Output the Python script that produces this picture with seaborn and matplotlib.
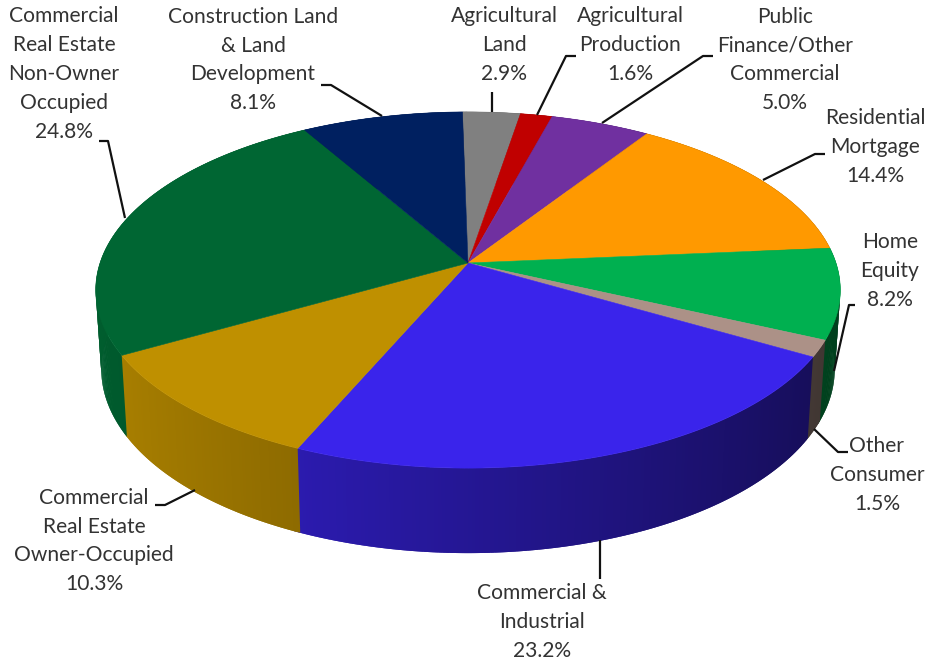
import numpy as np
import matplotlib
matplotlib.use("Agg")
import matplotlib.pyplot as plt
import seaborn as sns
from matplotlib.path import Path
from matplotlib.transforms import Affine2D, Transform

labels = [
    "Agricultural\nLand\n2.9%",
    "Agricultural\nProduction\n1.6%",
    "Public\nFinance/Other\nCommercial\n5.0%",
    "Residential\nMortgage\n14.4%",
    "Home\nEquity\n8.2%",
    "Other\nConsumer\n1.5%",
    "Commercial &\nIndustrial\n23.2%",
    "Commercial\nReal Estate\nOwner-Occupied\n10.3%",
    "Commercial\nReal Estate\nNon-Owner\nOccupied\n24.8%",
    "Construction Land\n& Land\nDevelopment\n8.1%",
]
values = [2.9, 1.6, 5.0, 14.4, 8.2, 1.5, 23.2, 10.3, 24.8, 8.1]
colors = ["#808080", "#C00000", "#7030A0", "#FF9900", "#00B050",
          "#AC9187", "#3A24EB", "#BF9000", "#006633", "#002060"]

# layout, in image pixels
label_pos = [(504, 45), (630, 45), (785, 60), (875, 147), (890, 271),
             (877, 475), (542, 622), (94, 541), (64, 74), (253, 60)]
leaders = [
    [(492, 92), (492, 112)],
    [(576, 56), (566, 56), (537, 115)],
    [(713, 56), (703, 56), (602, 123)],
    [(825, 154), (815, 154), (763, 180)],
    [(855, 305), (849, 305), (834, 371)],
    [(848, 452), (838, 452), (814, 429)],
    [(600, 540), (600, 579)],
    [(155, 505), (165, 505), (195, 490)],
    [(99, 141), (108, 141), (125, 218)],
    [(321, 85), (331, 85), (382, 116)],
]

CX, CY = 468, 263
KY = 0.1517
AX, AY = 368, 174
WALL, WALL_FRONT, WALL_SHRINK = 78, 7, 0.985


class Tilt(Transform):
    # unit circle -> perspective ellipse, in image pixels
    input_dims = 2
    output_dims = 2

    def transform_non_affine(self, values):
        xy = np.asarray(values, dtype=float)
        d = 1 + KY * xy[:, 1]
        return np.column_stack([CX + AX * xy[:, 0] / d, CY - AY * xy[:, 1] / d])

    def transform_path_non_affine(self, path):
        poly = path.to_polygons(Affine2D().scale(2000), closed_only=False)[0] / 2000
        return Path(self.transform_non_affine(poly))


def shade(color, x):
    f = 0.63 - 0.28 * x
    return tuple(c * f for c in matplotlib.colors.to_rgb(color))


sns.set_theme(style="white")
plt.rcParams["font.family"] = ["Lato", "DejaVu Sans"]

fig = plt.figure(figsize=(9.31, 6.63), dpi=100)
ax = fig.add_axes([0, 0, 1, 1])
palette = sns.color_palette(colors)
wedges, _ = ax.pie(values, colors=palette, startangle=91, counterclock=False)
ax.set_aspect("auto")
ax.set_xlim(0, 931)
ax.set_ylim(663, 0)
ax.axis("off")

tilt = Tilt()
for w, col in zip(wedges, colors):
    w.set_transform(tilt + ax.transData)
    w.set_edgecolor(col)
    w.set_linewidth(0.4)
    # side wall: overlapping strips, painted clockwise, so no seams show
    lo, hi = sorted((w.theta1, w.theta2))
    th = np.radians(np.arange(hi, lo - 1.0, -0.5))
    ux, uy = np.cos(th), np.sin(th)
    top = tilt.transform_non_affine(np.column_stack([ux, uy]))
    bx = CX + (top[:, 0] - CX) * WALL_SHRINK
    by = top[:, 1] + WALL - WALL_FRONT * uy
    for i in range(len(th) - 2):
        c = shade(col, ux[i:i + 2].mean())
        ax.fill([top[i, 0], top[i + 2, 0], bx[i + 2], bx[i]],
                [top[i, 1], top[i + 2, 1], by[i + 2], by[i]],
                facecolor=c, edgecolor="none", zorder=0.5)

for txt, (x, y) in zip(labels, label_pos):
    ax.text(x, y, txt, ha="center", va="center", fontsize=15.1,
            color="#333333", linespacing=1.55)

for pts in leaders:
    xs, ys = zip(*pts)
    ax.plot(xs, ys, color="#111111", lw=1.6, solid_capstyle="butt", zorder=3)

fig.savefig("out.png", dpi=100, facecolor="white")
plt.close(fig)
